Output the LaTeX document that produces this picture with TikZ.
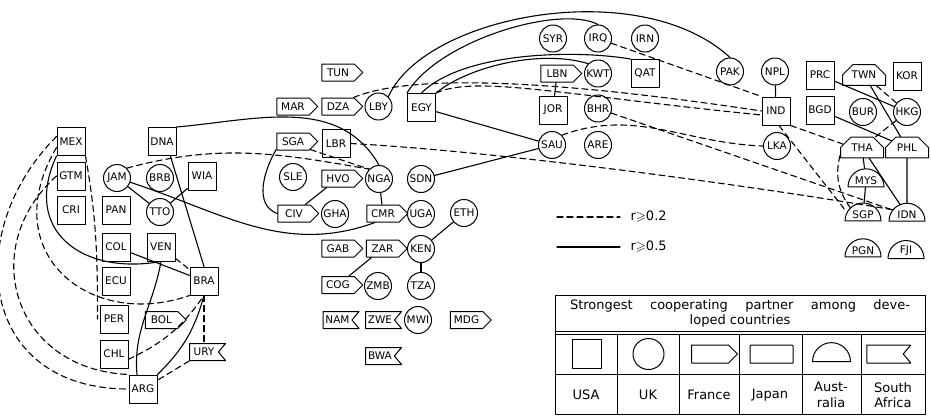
\documentclass[tikz,border=0pt]{standalone}
\usepackage{fontspec}
\setmainfont{DejaVu Sans}
\usepackage{amssymb}
\usetikzlibrary{shapes.geometric,shapes.symbols,shapes.misc}

\begin{document}
\begin{tikzpicture}[x=1pt, y=1pt, line cap=round, line join=round,
  font=\fontsize{10.5}{12}\selectfont,
  cty/.style={draw, line width=1pt, inner sep=0.5pt},
  usa/.style={cty, rectangle, minimum size=28pt},
  uk/.style={cty, circle, minimum size=27pt},
  fra/.style={cty, signal, signal to=east, signal pointer angle=90, minimum width=41pt, minimum height=17pt},
  jpn/.style={cty, chamfered rectangle, chamfered rectangle corners={north west, north east}, chamfered rectangle xsep=6pt, chamfered rectangle ysep=6pt, minimum width=43pt, minimum height=16pt},
  aus/.style={cty, semicircle, minimum width=36pt, minimum height=18pt},
  rsa/.style={cty, signal, signal to=nowhere, signal from=east, signal pointer angle=100, minimum width=36pt, minimum height=17pt},
  strong/.style={line width=1.1pt},
  weak/.style={line width=1.1pt, dash pattern=on 6pt off 4pt},
  big/.style={font=\fontsize{13}{15.5}\selectfont}]
\useasboundingbox (0,0) rectangle (931,-415);

% countries, by strongest developed partner
\foreach \n/\x/\y in {MEX/71/141.5, GTM/71/176, CRI/71/210, DNA/162/141.5, WIA/202/176, PAN/116/210, COL/116/247, VEN/161/247, ECU/116/281, BRA/204/281, PER/114/319, CHL/114/354, ARG/143/389, LBR/336/143.5, EGY/421.5/107.5, JOR/553/110, QAT/645/73.5, IND/776/111, PRC/820/75, BGD/820/110, KOR/907/76}
  \node[usa] (\n) at (\x,-\y) {\n};
\foreach \n/\x/\y in {JAM/117/178, BRB/160/178, TTO/160/212, LBY/378.5/106.5, SLE/293/177, NGA/379/179, SDN/421/179, GHA/335/214, UGA/421/214, ETH/464/213, KEN/421/249, ZMB/378/286, TZA/421/286, MWI/418/320, SYR/553/38.5, IRQ/598/38.5, IRN/645/38.5, KWT/598/73.5, BHR/598/108.5, SAU/552/145, ARE/598/145, PAK/730/71.5, NPL/775/71.5, LKA/777/146, BUR/863/112, HKG/907/112}
  \node[uk] (\n) at (\x,-\y) {\n};
\foreach \n/\x/\y in {BOL/161.5/320, TUN/338/72.5, MAR/293/106.5, DZA/338/106.5, SGA/293/141.5, HVO/338/178.5, CIV/294/213.5, CMR/383/213.5, GAB/338/248.5, ZAR/382.5/248.5, COG/338/285, MDG/466.5/320, LBN/557/73.5}
  \node[fra] (\n) at (\x,-\y) {\n};
\foreach \n/\x/\y in {TWN/864/75, THA/862/147.5, PHL/907/147.5}
  \node[jpn] (\n) at (\x,-\y) {\n};
\foreach \n/\x/\y in {MYS/866/181, SGP/863/215, IDN/907/215, PGN/863/251, FJI/906/251}
  \node[aus] (\n) at (\x,-\y) {\n};
\foreach \n/\x/\y in {URY/204/352, NAM/337.5/320, ZWE/380/320, BWA/380/356}
  \node[rsa] (\n) at (\x,-\y) {\n};

% r >= 0.5
\foreach \a/\b in {JAM/TTO, WIA/TTO, COL/BRA, HVO/CIV, NGA/CMR, SDN/SAU, EGY/SAU, ZAR/COG, KEN/ETH, KEN/TZA, LBN/JOR, NPL/IND, PRC/HKG, TWN/PHL, BGD/PHL, THA/MYS, THA/IDN, PHL/IDN, MYS/SGP}
  \draw[strong] (\a) -- (\b);
\draw[strong] (DNA.-60) -- (BRA.north);
\draw[strong] (MEX.south west) to[out=-115, in=190, looseness=1.4] (VEN.south);
\draw[strong] (VEN.south) to[out=-100, in=95] ([xshift=-6pt]ARG.north);
\draw[strong] (BRA.south) to[bend left=15] (ARG.north east);
\draw[strong] (JAM) to[out=-18, in=-160] ([xshift=-8pt]CMR.south);
\draw[strong] (DNA.north east) to[out=5, in=120] (NGA.north);
\draw[strong] (SGA.205) to[out=-120, in=160] (CIV.west);
\draw[strong] (LBY.north east) .. controls +(37,82) and +(-90,83) .. (PAK.north);
\draw[strong] (EGY.north west) .. controls +(32,53) and +(-38,20) .. (IRQ.north);
\draw[strong] (EGY.north) .. controls +(40,40) and +(-60,10) .. (QAT.north west);
\draw[strong] (EGY.north east) .. controls +(30,25) and +(-50,15) .. (KWT.north west);

% r >= 0.2
\foreach \a/\b in {VEN/BRA, BRA/URY, URY/ARG, BHR/IDN, TWN/HKG, HKG/THA}
  \draw[weak] (\a) -- (\b);
\draw[weak] ([yshift=5pt]MEX.west) .. controls +(-95,-95) and +(-150,0) .. (ARG.west);
\draw[weak] (GTM.west) .. controls +(-80,-72) and +(-115,5) .. (ARG.north west);
\draw[weak] ([yshift=-6pt]MEX.west) .. controls +(-62,-105) and +(-100,-35) .. (BRA.south west);
\draw[weak] (MEX.south east) to[out=-80, in=90] ([xshift=-2pt]PER.west);
\draw[weak] (CHL.-20) to[bend right=15] (BRA.south);
\draw[weak] (JAM.north east) to[out=15, in=170] (NGA.north west);
\draw[weak] (SGA.-25) -- (NGA.north west);
\draw[weak] (LBR.east) .. controls +(150,-8) and +(-140,24) .. (IDN.160);
\draw[weak] (SAU.north east) to[out=20, in=178] (LKA.west);
\draw[weak] (DZA.30) .. controls +(60,25) and +(-200,30) .. (IND.west);
\draw[weak] (EGY.north east) .. controls +(40,18) and +(-200,20) .. ([yshift=-4pt]IND.west);
\draw[weak] (IRQ) -- (IND.north west);
\draw[weak] (IND.south east) -- (THA.170);
\draw[weak] ([xshift=3pt]IND.south) -- (SGP.170);
\draw[weak] (THA.200) to[bend right=25] (SGP.150);

% key
\coordinate (wA) at (557,-217); \coordinate (wB) at (620,-217);
\draw[weak] (wA) -- (wB);
\node[big, anchor=west] (wT) at (627,-217) {r$\geqslant$0.2};
\coordinate (sA) at (557,-247); \coordinate (sB) at (620,-247);
\draw[strong] (sA) -- (sB);
\node[big, anchor=west] (sT) at (627,-247) {r$\geqslant$0.5};

% partner table
\draw[line width=1pt] (555,-295) rectangle (925,-414);
\draw[line width=0.8pt] (555,-331) -- (925,-331) (555,-334.5) -- (925,-334.5) (555,-374) -- (925,-374);
\foreach \x in {617,679,739,802,861}
  \draw[line width=0.8pt] (\x,-334.5) -- (\x,-414);
\node[big, align=center] (head) at (740,-313.5) {\makebox[340pt][s]{Strongest cooperating partner among deve-}\\loped countries};
\node[usa, minimum size=29pt] (iUSA) at (587,-354) {};
\node[uk, minimum size=31pt] (iUK) at (648.5,-354) {};
\node[fra, minimum width=46pt, minimum height=18pt] (iFRA) at (710,-354) {};
\node[jpn, minimum width=43pt, minimum height=18pt, chamfered rectangle xsep=7pt, chamfered rectangle ysep=7pt] (iJPN) at (771.5,-354) {};
\node[aus, minimum width=37pt, minimum height=19pt] (iAUS) at (831.5,-354) {};
\node[rsa, minimum width=44pt, minimum height=18pt] (iRSA) at (885,-354) {};
\foreach \n/\x/\t in {tUSA/586/USA, tUK/648/UK, tFRA/709/France, tJPN/770/Japan, tAUS/831/{Aust-\\ralia}, tRSA/893/{South\\Africa}}
  \node[big, align=center, inner sep=0pt] (\n) at (\x,-395) {\t};
\end{tikzpicture}
\end{document}
